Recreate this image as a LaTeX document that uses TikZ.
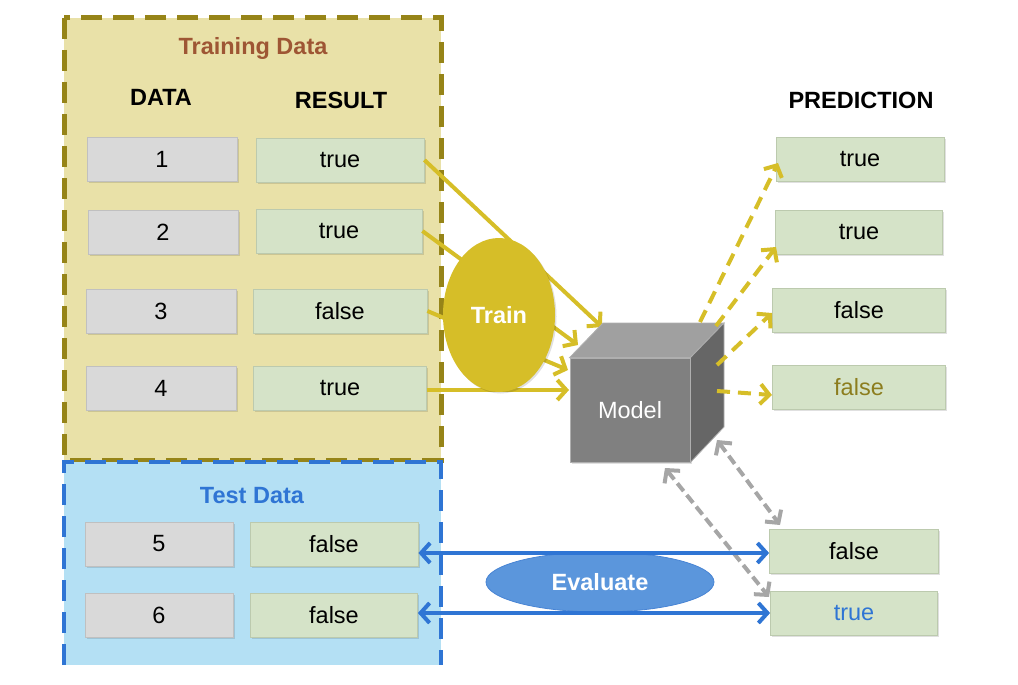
\documentclass[tikz,border=0pt]{standalone}
\usepackage{fontspec}
\setmainfont{Liberation Sans}
\usetikzlibrary{arrows.meta,shadows,shapes.geometric}
\definecolor{olivebd}{RGB}{150,132,24}
\definecolor{trainfill}{RGB}{233,225,168}
\definecolor{titlebrown}{RGB}{158,86,52}
\definecolor{testfill}{RGB}{180,224,244}
\definecolor{testblue}{RGB}{47,117,212}
\definecolor{mustard}{RGB}{214,190,40}
\definecolor{evalfill}{RGB}{91,150,220}
\definecolor{evalbd}{RGB}{72,132,212}
\definecolor{grayfill}{RGB}{217,217,217}
\definecolor{graybd}{RGB}{192,192,192}
\definecolor{greenfill}{RGB}{213,227,200}
\definecolor{greenbd}{RGB}{188,202,174}
\definecolor{cubefront}{RGB}{128,128,128}
\definecolor{cubetop}{RGB}{160,160,160}
\definecolor{cuberight}{RGB}{102,102,102}
\definecolor{cubeedge}{RGB}{175,175,175}
\definecolor{predolive}{RGB}{140,125,30}
\definecolor{dashgray}{RGB}{166,166,166}
\newcommand\fsz{\fontsize{23.5}{28}\selectfont}
\begin{document}
\begin{tikzpicture}[x=1pt,y=-1pt,
  every node/.style={font=\fsz, inner sep=0pt},
  softshadow/.style={drop shadow={shadow xshift=1.5pt,shadow yshift=-1.5pt,opacity=0.12,fill=black}},
  databox/.style={draw=graybd, line width=0.8pt, fill=grayfill, minimum height=44pt, minimum width=150pt, softshadow},
  resbox/.style={draw=greenbd, line width=0.8pt, fill=greenfill, minimum height=44pt, minimum width=170pt, softshadow},
  header/.style={font=\fsz\bfseries},
  yarrow/.style={draw=mustard, line width=4pt, -{Straight Barb[length=9pt,width=20pt]}},
  ydash/.style={yarrow, dash pattern=on 13pt off 8pt},
  garrow/.style={draw=dashgray, line width=4pt, dash pattern=on 10pt off 5pt, {Straight Barb[length=9pt,width=20pt]}-{Straight Barb[length=9pt,width=20pt]}},
  barrow/.style={draw=testblue, line width=4pt, {Straight Barb[length=9pt,width=20pt]}-{Straight Barb[length=9pt,width=20pt]}}
]
\useasboundingbox (0,0) rectangle (1018,685);

% frames
\fill[trainfill] (64,18) rectangle (441,460);
\draw[olivebd, line width=5pt, dash pattern=on 21pt off 11pt] (64,18) rectangle (441,460);
\fill[testfill] (64,462) rectangle (441,665);
\draw[testblue, line width=4.5pt, dash pattern=on 21pt off 11pt] (64,665) -- (64,462) -- (441,462) -- (441,665);

% headers
\node[header, text=titlebrown] (ttitle) at (253,48) {Training Data};
\node[header] (hdata) at (161,97) {DATA};
\node[header] (hres) at (341,100) {RESULT};
\node[header] (hpred) at (861,100) {PREDICTION};
\node[header, text=testblue] (stitle) at (252,496) {Test Data};

% training boxes
\node[databox] (d1) at (162,159) {1};
\node[databox] (d2) at (163,232) {2};
\node[databox] (d3) at (161,311) {3};
\node[databox] (d4) at (161,388) {4};
\node[resbox, minimum width=168pt] (r1) at (340,160) {true};
\node[resbox, minimum width=166pt] (r2) at (339,231) {true};
\node[resbox, minimum width=174pt] (r3) at (340,311) {false};
\node[resbox, minimum width=173pt] (r4) at (340,388) {true};

% test boxes
\node[databox, minimum width=148pt] (d5) at (159,544) {5};
\node[databox, minimum width=148pt] (d6) at (159,615) {6};
\node[resbox, minimum width=168pt] (r5) at (334,544) {false};
\node[resbox, minimum width=167pt] (r6) at (334,615) {false};

% prediction boxes
\node[resbox, minimum width=168pt] (p1) at (860,159) {true};
\node[resbox, minimum width=167pt] (p2) at (859,232) {true};
\node[resbox, minimum width=173pt] (p3) at (859,310) {false};
\node[resbox, minimum width=173pt, text=predolive] (p4) at (859,387) {false};
\node[resbox, minimum width=169pt] (p5) at (854,551) {false};
\node[resbox, minimum width=167pt, text=testblue] (p6) at (854,613) {true};

% cube target points
\coordinate (m1) at (602,327);
\coordinate (m2) at (578,345);
\coordinate (m3) at (568,370);
\coordinate (m4) at (569,390);

% solid yellow arrows into model (behind Train)
\draw[yarrow] (r1.east) -- (m1);
\draw[yarrow] (r2.east) -- (m2);
\draw[yarrow] (r3.east) -- (m3);
\draw[yarrow] ([yshift=-2pt]r4.east) -- (m4);

% Train ellipse
\node[ellipse, fill=mustard, minimum width=112pt, minimum height=154pt, text=white, font=\fsz\bfseries, softshadow] (train) at (499,315) {Train};

% cube
\node[fill=cubefront, draw=cubeedge, line width=0.8pt, minimum width=120pt, minimum height=104pt, text=white, softshadow] (model) at (630,410) {Model};
\coordinate (tbl) at (603,323);
\coordinate (tbr) at (724,323);
\coordinate (bbr) at (724,427);
\filldraw[fill=cubetop, draw=cubeedge, line width=0.8pt] (model.north west) -- (tbl) -- (tbr) -- (model.north east) -- cycle;
\filldraw[fill=cuberight, draw=cubeedge, line width=0.8pt] (model.north east) -- (tbr) -- (bbr) -- (model.south east) -- cycle;

% dashed yellow predictions
\coordinate (s1) at (700,322);
\coordinate (s2) at (716,326);
\coordinate (s3) at (717,365);
\coordinate (s4) at (717,391);
\coordinate (e1) at (778,163);
\coordinate (e2) at (776,247);
\coordinate (e3) at (772,313);
\coordinate (e4) at (772,395);
\draw[ydash] (s1) -- (e1);
\draw[ydash] (s2) -- (e2);
\draw[ydash] (s3) -- (e3);
\draw[ydash] (s4) -- (e4);

% gray evaluation arrows
\coordinate (ga1) at (717,440);
\coordinate (ga2) at (780,525);
\coordinate (gb1) at (665,468);
\coordinate (gb2) at (769,597);
\draw[garrow] (ga1) -- (ga2);
\draw[garrow] (gb1) -- (gb2);

% Evaluate ellipse
\node[ellipse, fill=evalfill, draw=evalbd, line width=0.8pt, minimum width=228pt, minimum height=60pt, text=white, font=\fsz\bfseries] (eval) at (600,582) {Evaluate};

% blue arrows
\draw[barrow] ([yshift=-9pt]r5.east) -- ([yshift=-2pt]p5.west);
\draw[barrow] ([yshift=2pt]r6.east) -- (p6.west);
\end{tikzpicture}
\end{document}
